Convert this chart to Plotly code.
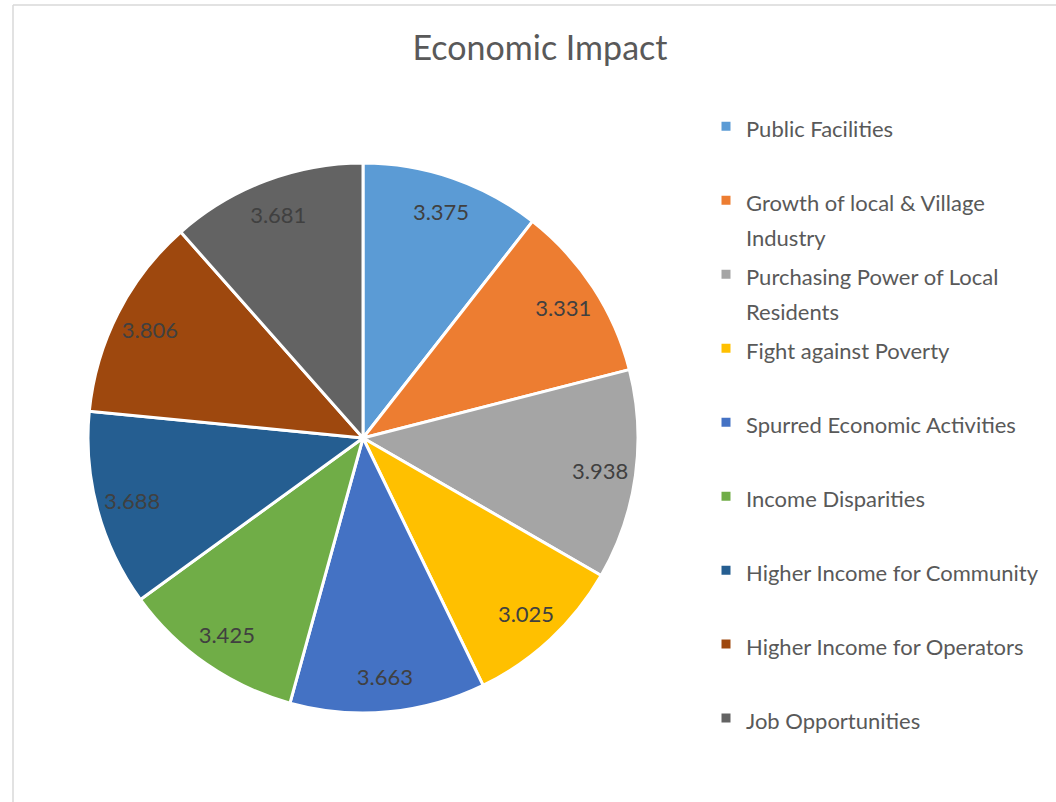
import plotly.graph_objects as go

categories = [
    "Public Facilities",
    "Growth of local & Village<br>Industry",
    "Purchasing Power of Local<br>Residents",
    "Fight against Poverty",
    "Spurred Economic Activities",
    "Income Disparities",
    "Higher Income for Community",
    "Higher Income for Operators",
    "Job Opportunities",
]
values = [3.375, 3.331, 3.938, 3.025, 3.663, 3.425, 3.688, 3.806, 3.681]
colors = ["#5B9BD5", "#ED7D31", "#A5A5A5", "#FFC000", "#4472C4",
          "#70AD47", "#255E91", "#9E480E", "#636363"]
title_text = "Economic Impact"

W, H = 1056, 802
FONT = "Lato, 'Open Sans', sans-serif"
DOMAIN = dict(x=[88 / W, 638 / W], y=[1 - 713 / H, 1 - 163 / H])

# legend labels: glyph size set inside a span, padded to two lines so
# every entry gets the same height (as in the reference)
legend_labels = []
for i, c in enumerate(categories):
    n = c.count("<br>") + 1
    pad = 0 if i == len(categories) - 1 else 2 - n
    lines = c.split("<br>")
    txt = "<br>".join("<span style='font-size:22px'>%s</span>" % l for l in lines)
    legend_labels.append(txt + "<br>\u00a0" * pad)

fig = go.Figure()

# main pie (colours, legend)
fig.add_trace(go.Pie(
    labels=legend_labels,
    values=values,
    sort=False,
    direction="clockwise",
    rotation=0,
    marker=dict(colors=colors, line=dict(color="white", width=3)),
    textinfo="none",
    domain=DOMAIN,
    hoverinfo="label+value",
))

# label-only ring so that value labels sit near the outer edge
fig.add_trace(go.Pie(
    labels=categories,
    values=values,
    sort=False,
    direction="clockwise",
    rotation=0,
    hole=0.74,
    marker=dict(colors=["rgba(0,0,0,0)"] * len(values),
                line=dict(color="rgba(0,0,0,0)", width=0)),
    textinfo="value",
    texttemplate="%{value:.3f}",
    textposition="inside",
    insidetextorientation="horizontal",
    textfont=dict(family=FONT, size=22, color="#404040"),
    domain=DOMAIN,
    showlegend=False,
    hoverinfo="skip",
))

fig.update_layout(
    width=W, height=H,
    margin=dict(l=0, r=0, t=0, b=0),
    paper_bgcolor="white",
    plot_bgcolor="white",
    title=dict(text=title_text, x=540 / W, xanchor="center",
               y=1 - 48 / H, yanchor="middle", yref="container",
               font=dict(family=FONT, size=34, color="#595959")),
    legend=dict(
        x=706 / W, xanchor="left", y=1 - 102 / H, yanchor="top",
        valign="top",
        font=dict(family=FONT, size=27.3, color="#595959"),
        bgcolor="rgba(0,0,0,0)",
        tracegroupgap=0,
    ),
    shapes=[
        dict(type="line", xref="paper", yref="paper",
             x0=13 / W, x1=1.05, y0=1 - 5 / H, y1=1 - 5 / H,
             line=dict(color="#D9D9D9", width=1.5)),
        dict(type="line", xref="paper", yref="paper",
             x0=13 / W, x1=13 / W, y0=-0.05, y1=1 - 5 / H,
             line=dict(color="#D9D9D9", width=1.5)),
    ],
)

fig.write_html("out.html")
